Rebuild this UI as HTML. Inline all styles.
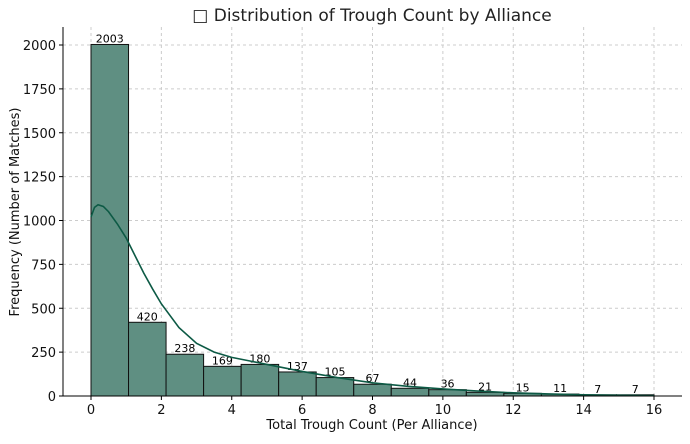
<!DOCTYPE html>
<html><head><meta charset="utf-8"><style>
body{margin:0;background:#fff;font-family:"Liberation Sans","DejaVu Sans",sans-serif;}
svg text{font-family:"DejaVu Sans","Liberation Sans",sans-serif;}
</style></head><body>
<svg id="chart" width="690" height="439">
<text x="372" y="21" font-size="17" text-anchor="middle" fill="#222">□ Distribution of Trough Count by Alliance</text>
<g id="grid"></g><g id="bars"></g><g id="labels"></g><g id="kde"></g><g id="axes"></g>
<text x="372" y="429" font-size="13" text-anchor="middle" fill="#111">Total Trough Count (Per Alliance)</text>
<text transform="translate(19,212) rotate(-90)" font-size="13" text-anchor="middle" fill="#111">Frequency (Number of Matches)</text>
</svg>
<script>
const counts=[2003,420,238,169,180,137,105,67,44,36,21,15,11,7,7];
const binStart=0, binEnd=16;
const xTicks=[0,2,4,6,8,10,12,14,16];
const yTicks=[0,250,500,750,1000,1250,1500,1750,2000];
const kdeX=[0,0.1,0.2,0.35,0.5,0.75,1,1.25,1.5,1.75,2,2.5,3,3.5,4,4.5,5,5.5,6,7,8,9,10,11,12,13,14,15,16];
const kdeY=[1020,1075,1090,1080,1050,980,900,800,700,610,525,390,300,250,220,200,180,160,140,105,75,55,40,28,18,12,7,4,2];
const NS="http://www.w3.org/2000/svg";
const X=v=>91+(v-0)*(654-91)/16;
const Y=v=>396-v*(396-45)/2000;
function mk(t,a,p){const e=document.createElementNS(NS,t);for(const k in a)e.setAttribute(k,a[k]);document.getElementById(p).appendChild(e);return e;}
xTicks.forEach(t=>{
 const l=mk('line',{x1:X(t),x2:X(t),y1:27,y2:396,stroke:'#ccc','stroke-dasharray':'3,3'},'grid');
 
 
 const tk=mk('line',{x1:X(t),x2:X(t),y1:396,y2:400,stroke:'#000'},'axes');
 
 
 const tx=mk('text',{x:X(t),y:414,'font-size':13,'text-anchor':'middle',fill:'#111'},'axes');
 tx.textContent=t;
 
 
});
yTicks.forEach(t=>{
 const l=mk('line',{x1:63,x2:682,y1:Y(t),y2:Y(t),stroke:'#ccc','stroke-dasharray':'3,3'},'grid');
 
 
 const tk=mk('line',{x1:59,x2:63,y1:Y(t),y2:Y(t),stroke:'#000'},'axes');
 
 
 const tx=mk('text',{x:56,y:Y(t)+5,'font-size':13,'text-anchor':'end',fill:'#111'},'axes');
 tx.textContent=t;
 
 
});
const w=(binEnd-binStart)/counts.length;
counts.forEach((c,i)=>{
 const x0=X(binStart+i*w),x1=X(binStart+(i+1)*w);
 const r=mk('rect',{x:x0,y:Y(c),width:x1-x0,height:396-Y(c),fill:'#5f8f82',stroke:'#111','stroke-width':1},'bars');
 
 
 const t=mk('text',{x:(x0+x1)/2,y:Y(c)-2,'font-size':11,'text-anchor':'middle',fill:'#000'},'labels');
 t.textContent=c;
 
 
});
const p=mk('path',{d:kdeX.map((x,i)=>(i?'L':'M')+X(x)+','+Y(kdeY[i])).join(''),fill:'none',stroke:'#0d5a45','stroke-width':1.6},'kde');


const a1=mk('line',{x1:63,x2:63,y1:27,y2:396,stroke:'#000'},'axes');


const a2=mk('line',{x1:63,x2:682,y1:396,y2:396,stroke:'#000'},'axes');


</script>
</body></html>
